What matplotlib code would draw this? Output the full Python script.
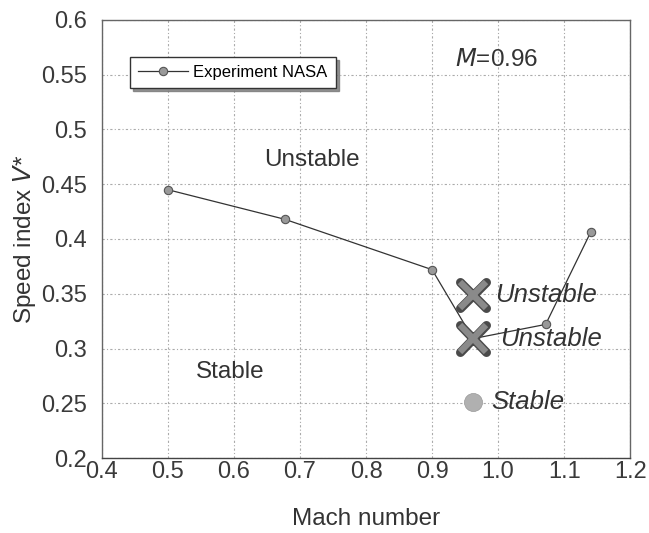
import matplotlib
matplotlib.use("Agg")
import matplotlib.pyplot as plt
import matplotlib.patheffects as pe

plt.rcParams['font.family'] = ['Liberation Sans', 'DejaVu Sans']

# Data
mach_nasa = [0.5, 0.677, 0.90, 0.962, 1.072, 1.14]
v_nasa = [0.445, 0.418, 0.372, 0.309, 0.322, 0.406]

unstable_m = [0.962, 0.962]
unstable_v = [0.349, 0.309]
stable_m = [0.962]
stable_v = [0.251]

x_ticks = [0.4, 0.5, 0.6, 0.7, 0.8, 0.9, 1.0, 1.1, 1.2]
x_tick_labels = ["0.4", "0.5", "0.6", "0.7", "0.8", "0.9", "1.0", "1.1", "1.2"]
y_ticks = [0.2, 0.25, 0.3, 0.35, 0.4, 0.45, 0.5, 0.55, 0.6]
y_tick_labels = ["0.2", "0.25", "0.3", "0.35", "0.4", "0.45", "0.5", "0.55", "0.6"]

fig = plt.figure(figsize=(6.49, 5.33), dpi=100)
ax = fig.add_axes([0.157, 0.1407, 0.814, 0.8218])

ax.set_xlim(0.4, 1.2)
ax.set_ylim(0.2, 0.6)
ax.set_xticks(x_ticks)
ax.set_xticklabels(x_tick_labels)
ax.set_yticks(y_ticks)
ax.set_yticklabels(y_tick_labels)
ax.tick_params(axis='both', length=0, labelsize=17, colors='#3a3a3a')
ax.tick_params(axis='x', pad=2)
ax.tick_params(axis='y', pad=11)
ax.grid(True, color='#aaaaaa', linestyle=(0, (2, 2, 1, 2)), linewidth=0.8)
ax.set_axisbelow(True)
for s in ax.spines.values():
    s.set_color('#666666')
    s.set_linewidth(1.0)
ax.spines['bottom'].set_color('#444444')

ax.plot(mach_nasa, v_nasa, color='#333333', linewidth=0.9, marker='o',
        markersize=6, markerfacecolor='#999999', markeredgecolor='#555555',
        markeredgewidth=0.8, label='Experiment NASA', zorder=3)

ax.plot(unstable_m, unstable_v, linestyle='none', marker='x', markersize=19,
        markeredgecolor='#8a8a8a', markeredgewidth=4.5, zorder=4,
        path_effects=[pe.Stroke(linewidth=6.5, foreground='#4a4a4a', capstyle='round'),
                      pe.Normal()])
ax.plot(stable_m, stable_v, linestyle='none', marker='o', markersize=13,
        markerfacecolor='#b0b0b0', markeredgecolor='#999999',
        markeredgewidth=0.5, zorder=4)

ax.text(0.995, 0.349, "Unstable", style='italic', fontsize=18.5, color='#333333',
        va='center', ha='left')
ax.text(1.003, 0.309, "Unstable", style='italic', fontsize=18.5, color='#333333',
        va='center', ha='left')
ax.text(0.99, 0.251, "Stable", style='italic', fontsize=18.5, color='#333333',
        va='center', ha='left')

ax.text(0.718, 0.472, "Unstable", fontsize=17.5, color='#333333', ha='center', va='center')
ax.text(0.594, 0.2785, "Stable", fontsize=17.5, color='#333333', ha='center', va='center')
ax.text(0.935, 0.5635, "$\\it{M}$=0.96", fontsize=17.5, color='#333333', ha='left', va='center')

leg = ax.legend(loc='upper left', bbox_to_anchor=(0.053, 0.916), borderaxespad=0,
                fancybox=False, shadow={'color': '#777777', 'alpha': 0.8},
                fontsize=12, framealpha=1, edgecolor='#333333', handlelength=3.0,
                handletextpad=0.3, borderpad=0.5)
leg.get_frame().set_linewidth(1.0)

ax.set_xlabel("Mach number", fontsize=17.5, color='#333333', labelpad=18)
ax.set_ylabel("Speed index $\\it{V}$*", fontsize=17.5, color='#333333', labelpad=2)

fig.savefig("out.png", dpi=100)
